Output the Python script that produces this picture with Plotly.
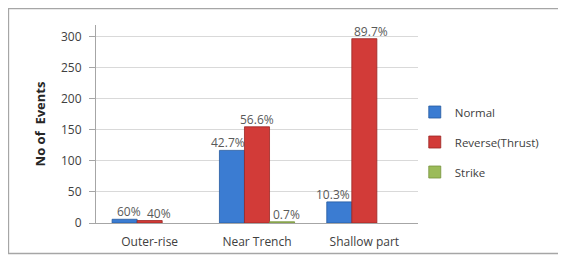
import plotly.graph_objects as go

categories = ["Outer-rise", "Near Trench", "Shallow part"]
series_names = ["Normal", "Reverse(Thrust)", "Strike"]
normal = [6, 117, 34]
reverse = [4, 155, 297]
strike = [None, 2, None]
normal_labels = ["60%", "42.7%", "10.3%"]
reverse_labels = ["40%", "56.6%", "89.7%"]
strike_labels = ["", "0.7%", ""]
y_ticks = [0, 50, 100, 150, 200, 250, 300]

colors = ["#3b7cd2", "#d23b38", "#9bbb59"]
edge = ["#24599f", "#9a2623", "#76923c"]
# label placement (pixels): bar slot width and small per-label nudges
bar_px = 25
label_dx = [[4, -4, -6], [9, 0, 7], [0, 4, 0]]

fig = go.Figure()
all_vals = [normal, reverse, strike]
all_labs = [normal_labels, reverse_labels, strike_labels]
for i, (name, vals, c, e) in enumerate(zip(series_names, all_vals, colors, edge)):
    fig.add_trace(go.Bar(
        name=name, x=categories, y=vals,
        marker=dict(color=c, line=dict(color=e, width=0.8)),
        legendgroup=name,
    ))
    for j, (cat, v, lab) in enumerate(zip(categories, vals, all_labs[i])):
        if v is None or not lab:
            continue
        fig.add_annotation(x=cat, y=v, text=lab, showarrow=False,
                           xanchor="center", yanchor="bottom",
                           xshift=(i - 1) * bar_px + label_dx[i][j], yshift=-3,
                           font=dict(family="Open Sans, Arial, sans-serif", size=12, color="#595959"))

# the page body has an 8px margin, so the figure sits 8px in; margins compensate
fig.update_layout(
    width=558, height=247,
    margin=dict(l=88, r=148, t=17, b=32, autoexpand=False),
    paper_bgcolor="white", plot_bgcolor="white",
    barmode="group", bargap=0.30, bargroupgap=0,
    font=dict(family="Open Sans, Arial, sans-serif", size=12, color="#404040"),
    showlegend=True,
    legend=dict(x=0.99, xanchor="left", y=0.409, yanchor="middle",
                font=dict(size=11.5, color="#404040"), tracegroupgap=11,
                itemwidth=30, bgcolor="rgba(0,0,0,0)"),
)
fig.update_yaxes(range=[0, 319], tickvals=y_ticks, showgrid=True, gridcolor="#d9d9d9",
                 showline=True, linecolor="#a6a6a6", linewidth=1,
                 ticks="outside", ticklen=6, tickcolor="#a6a6a6", ticklabelstandoff=5,
                 zeroline=False, tickfont=dict(size=12, color="#404040"),
                 title=dict(text="<b>No of  Events</b>", font=dict(size=13, color="#262626"), standoff=12))
fig.update_xaxes(showline=True, linecolor="#a6a6a6", linewidth=1, ticks="",
                 ticklabelstandoff=8, tickfont=dict(size=12, color="#404040"))
fig.add_shape(type="rect", xref="paper", yref="paper",
              x0=-0.272, x1=1.5, y0=-0.154, y1=1.083,
              line=dict(color="#a6a6a6", width=1.5), fillcolor="rgba(0,0,0,0)", layer="below")

fig.write_html("out.html")
